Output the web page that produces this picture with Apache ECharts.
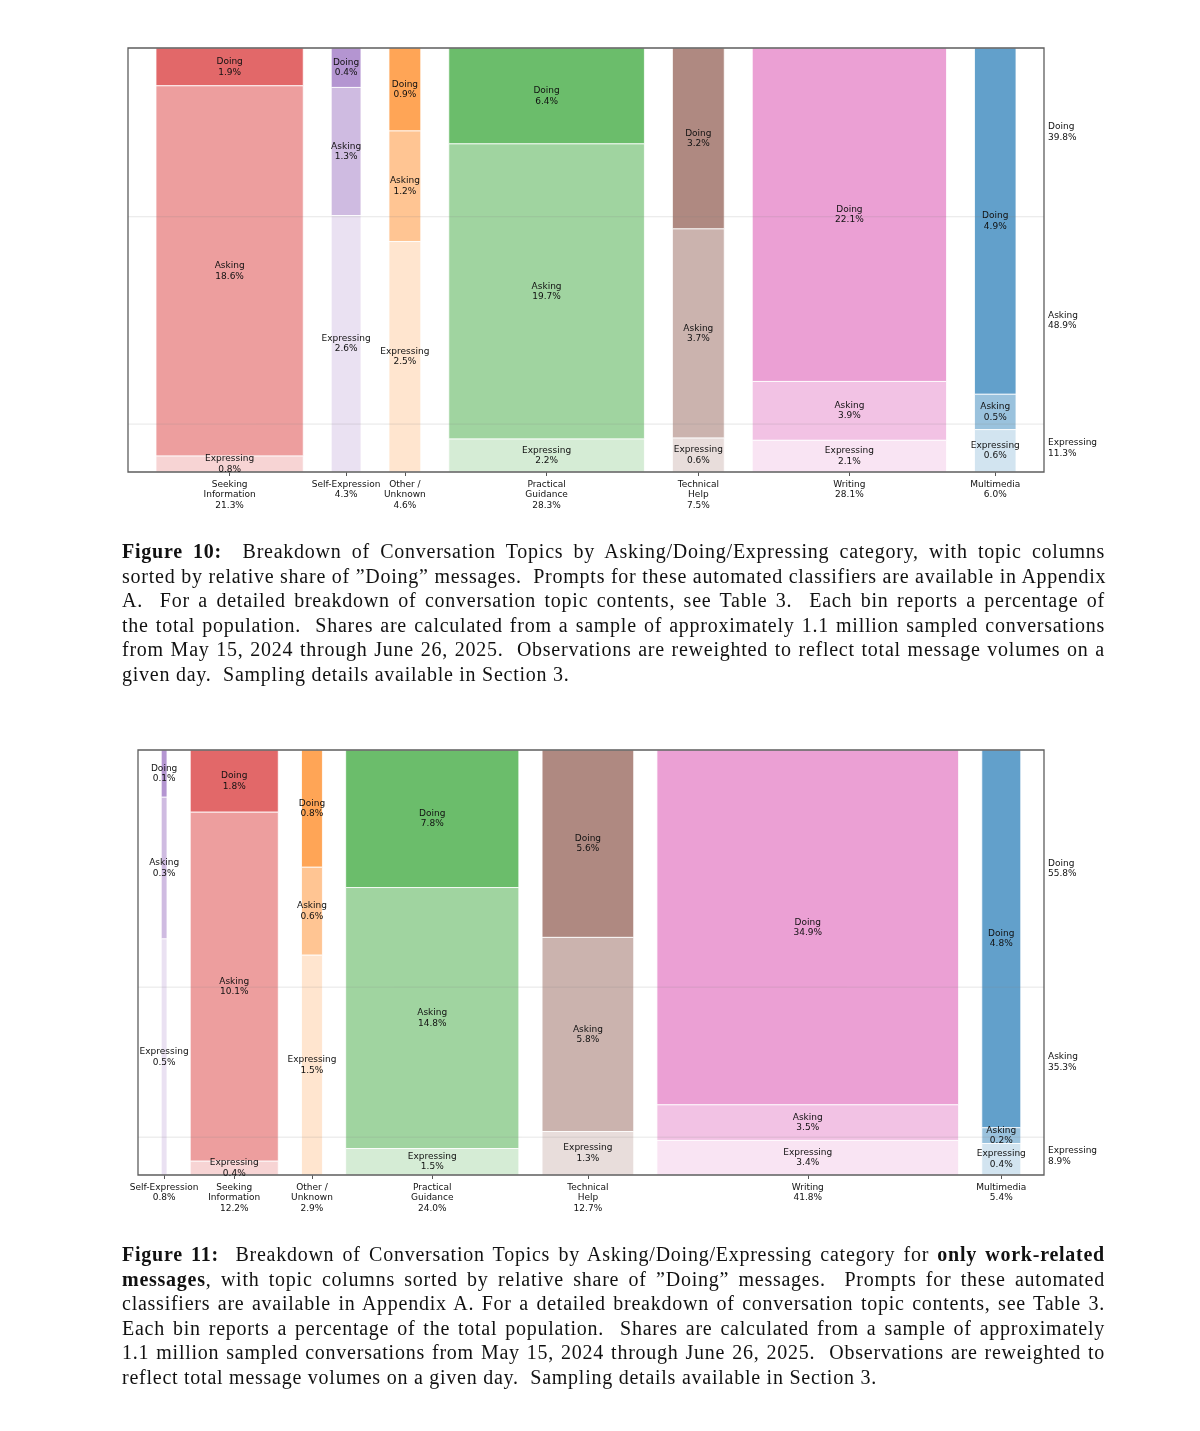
<!DOCTYPE html>
<html>
<head>
<meta charset="utf-8">
<script src="https://cdn.jsdelivr.net/npm/echarts@6/dist/echarts.min.js"></script>
<style>
html,body{margin:0;padding:0;background:#fff;}
#chart{position:absolute;left:0;top:0;width:1200px;height:1431px;}
.cap{position:absolute;left:122px;width:983px;font-family:"Liberation Serif","Times New Roman",serif;font-size:20px;letter-spacing:0.75px;color:#111;}
.cap div{height:24.6px;line-height:24.6px;white-space:nowrap;text-align:justify;text-align-last:justify;}
.cap div.last{text-align-last:left;}
</style>
</head>
<body>
<div id="chart"></div>
<div class="cap" style="top:539px">
<div><b>Figure 10:</b>&nbsp; Breakdown of Conversation Topics by Asking/Doing/Expressing category, with topic columns</div>
<div>sorted by relative share of ”Doing” messages. &nbsp;Prompts for these automated classifiers are available in Appendix</div>
<div>A. &nbsp;For a detailed breakdown of conversation topic contents, see Table 3. &nbsp;Each bin reports a percentage of</div>
<div>the total population. &nbsp;Shares are calculated from a sample of approximately 1.1 million sampled conversations</div>
<div>from May 15, 2024 through June 26, 2025. &nbsp;Observations are reweighted to reflect total message volumes on a</div>
<div class="last">given day. &nbsp;Sampling details available in Section 3.</div>
</div>
<div class="cap" style="top:1242px">
<div><b>Figure 11:</b>&nbsp; Breakdown of Conversation Topics by Asking/Doing/Expressing category for <b>only work-related</b></div>
<div><b>messages</b>, with topic columns sorted by relative share of ”Doing” messages. &nbsp;Prompts for these automated</div>
<div>classifiers are available in Appendix A. For a detailed breakdown of conversation topic contents, see Table 3.</div>
<div>Each bin reports a percentage of the total population. &nbsp;Shares are calculated from a sample of approximately</div>
<div>1.1 million sampled conversations from May 15, 2024 through June 26, 2025. &nbsp;Observations are reweighted to</div>
<div class="last">reflect total message volumes on a given day. &nbsp;Sampling details available in Section 3.</div>
</div>
<script>
// ---------- DATA ----------
const segNames = ['Doing', 'Asking', 'Expressing'];

// Figure 10 (all messages)
const topics1 = ['Seeking\nInformation', 'Self-Expression', 'Other /\nUnknown', 'Practical\nGuidance', 'Technical\nHelp', 'Writing', 'Multimedia'];
const totals1 = [21.3, 4.3, 4.6, 28.3, 7.5, 28.1, 6.0];
const doing1 = [1.9, 0.4, 0.9, 6.4, 3.2, 22.1, 4.9];
const asking1 = [18.6, 1.3, 1.2, 19.7, 3.7, 3.9, 0.5];
const expressing1 = [0.8, 2.6, 2.5, 2.2, 0.6, 2.1, 0.6];
const overall1 = [39.8, 48.9, 11.3]; // Doing, Asking, Expressing

// Figure 11 (work-related messages)
const topics2 = ['Self-Expression', 'Seeking\nInformation', 'Other /\nUnknown', 'Practical\nGuidance', 'Technical\nHelp', 'Writing', 'Multimedia'];
const totals2 = [0.8, 12.2, 2.9, 24.0, 12.7, 41.8, 5.4];
const doing2 = [0.1, 1.8, 0.8, 7.8, 5.6, 34.9, 4.8];
const asking2 = [0.3, 10.1, 0.6, 14.8, 5.8, 3.5, 0.2];
const expressing2 = [0.5, 0.4, 1.5, 1.5, 1.3, 3.4, 0.4];
const overall2 = [55.8, 35.3, 8.9];

// ---------- STYLE ----------
const baseRGB = {
  'Seeking\nInformation': [214, 39, 40],
  'Self-Expression': [148, 103, 189],
  'Other /\nUnknown': [255, 127, 14],
  'Practical\nGuidance': [44, 160, 44],
  'Technical\nHelp': [140, 86, 75],
  'Writing': [227, 119, 194],
  'Multimedia': [31, 119, 180]
};
const segAlpha = [0.7, 0.45, 0.2];
function blend(rgb, a) {
  return 'rgb(' + rgb.map(c => Math.round(255 - a * (255 - c))).join(',') + ')';
}
const FONT = '9px "DejaVu Sans"';
const TXT = '#111111';

function buildLayout(topics, totals, doing, asking, expressing, gap) {
  let x = gap;
  const rects = [], labels = [], centers = [];
  totals.forEach((t, i) => {
    const x0 = x, x1 = x + t;
    centers.push((x0 + x1) / 2);
    const s = doing[i] + asking[i] + expressing[i];
    const e = expressing[i] / s, a = asking[i] / s;
    const segs = [[e + a, 1, doing[i], 0], [e, e + a, asking[i], 1], [0, e, expressing[i], 2]];
    segs.forEach(sg => {
      rects.push([x0, x1, sg[0], sg[1], i, sg[3], sg[2]]);
      labels.push([(x0 + x1) / 2, (sg[0] + sg[1]) / 2, sg[3], sg[2]]);
    });
    x = x1 + gap;
  });
  return { rects, labels, centers, max: x };
}

const L1 = buildLayout(topics1, totals1, doing1, asking1, expressing1, 4.05);
const L2 = buildLayout(topics2, totals2, doing2, asking2, expressing2, 3.22);

function nearestIdx(arr, v) {
  let best = 0, bd = Infinity;
  arr.forEach((c, i) => { const d = Math.abs(c - v); if (d < bd) { bd = d; best = i; } });
  return best;
}

function overallPositions(ov) {
  const e = ov[2] / 100, ea = (ov[2] + ov[1]) / 100;
  return { grid: [e, ea], mids: [(ea + 1) / 2, (e + ea) / 2, e / 2] };
}
const O1 = overallPositions(overall1);
const O2 = overallPositions(overall2);

function makeAxes(idx, L, topics, totals, O, overall) {
  const x = {
    type: 'value', gridIndex: idx, min: 0, max: L.max,
    axisLine: { show: false },
    splitLine: { show: false },
    axisTick: { show: true, customValues: L.centers, length: 4, lineStyle: { color: '#555', width: 1 } },
    axisLabel: {
      show: true, customValues: L.centers, margin: 7,
      formatter: v => { const i = nearestIdx(L.centers, v); return topics[i] + '\n' + totals[i].toFixed(1) + '%'; },
      fontFamily: 'DejaVu Sans', fontSize: 9, lineHeight: 10.5, color: TXT, align: 'center', verticalAlign: 'top'
    }
  };
  const y = {
    type: 'value', gridIndex: idx, min: 0, max: 1, position: 'right',
    axisLine: { show: false }, axisTick: { show: false }, splitLine: { show: false },
    axisLabel: {
      show: true, customValues: O.mids, margin: 4, align: 'left',
      formatter: v => { const i = nearestIdx(O.mids, v); return segNames[i] + '\n' + overall[i].toFixed(1) + '%'; },
      fontFamily: 'DejaVu Sans', fontSize: 9, lineHeight: 10.5, color: TXT
    }
  };
  return { x, y };
}
const A1 = makeAxes(0, L1, topics1, totals1, O1, overall1);
const A2 = makeAxes(1, L2, topics2, totals2, O2, overall2);

function rectSeries(idx, L, topics) {
  return {
    type: 'custom', xAxisIndex: idx, yAxisIndex: idx, z: 2,
    encode: { x: [0, 1], y: [2, 3] },
    data: L.rects,
    renderItem: (params, api) => {
      const x0 = api.value(0), x1 = api.value(1), y0 = api.value(2), y1 = api.value(3);
      const ti = api.value(4), si = api.value(5);
      const p0 = api.coord([x0, y1]), p1 = api.coord([x1, y0]);
      return {
        type: 'rect',
        shape: { x: p0[0], y: p0[1], width: p1[0] - p0[0], height: p1[1] - p0[1] },
        style: { fill: blend(baseRGB[topics[ti]], segAlpha[si]), stroke: '#ffffff', lineWidth: 0.8 }
      };
    }
  };
}
function frameSeries(idx, O) {
  return {
    type: 'custom', xAxisIndex: idx, yAxisIndex: idx, z: 5, silent: true,
    data: [[0, 0]],
    renderItem: (params, api) => {
      const cs = params.coordSys;
      const children = O.grid.map(g => {
        const yy = api.coord([0, g])[1];
        return { type: 'line', shape: { x1: cs.x, y1: yy, x2: cs.x + cs.width, y2: yy },
          style: { stroke: 'rgba(128,128,128,0.2)', lineWidth: 1 } };
      });
      children.push({ type: 'rect', shape: { x: cs.x, y: cs.y, width: cs.width, height: cs.height },
        style: { fill: 'none', stroke: '#5e5e5e', lineWidth: 1.3 } });
      return { type: 'group', children };
    }
  };
}
function labelSeries(idx, L) {
  return {
    type: 'custom', xAxisIndex: idx, yAxisIndex: idx, z: 10, silent: true,
    data: L.labels,
    renderItem: (params, api) => {
      const p = api.coord([api.value(0), api.value(1)]);
      const si = api.value(2), v = api.value(3);
      return {
        type: 'text', x: p[0], y: p[1],
        style: { text: segNames[si] + '\n' + v.toFixed(1) + '%', font: FONT, fill: TXT,
          align: 'center', verticalAlign: 'middle', lineHeight: 10.5 }
      };
    }
  };
}

const chart = echarts.init(document.getElementById('chart'), null, { renderer: 'canvas' });
chart.setOption({
  animation: false,
  backgroundColor: '#ffffff',
  grid: [
    { left: 128, top: 48, width: 916, height: 424, containLabel: false },
    { left: 138, top: 750, width: 906, height: 425, containLabel: false }
  ],
  xAxis: [A1.x, A2.x],
  yAxis: [A1.y, A2.y],
  series: [
    rectSeries(0, L1, topics1), frameSeries(0, O1), labelSeries(0, L1),
    rectSeries(1, L2, topics2), frameSeries(1, O2), labelSeries(1, L2)
  ]
});
</script>
</body>
</html>
